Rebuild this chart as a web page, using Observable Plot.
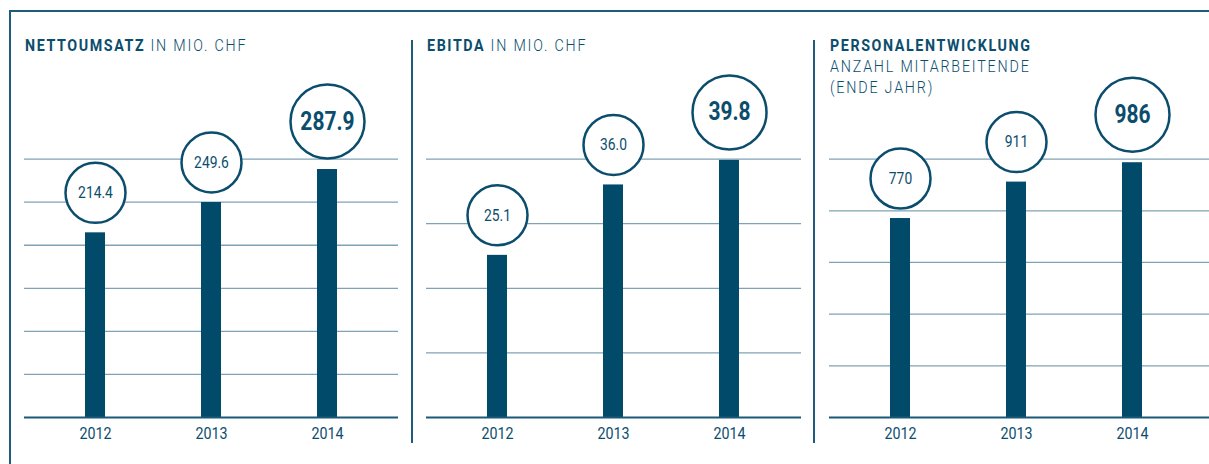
<!DOCTYPE html>
<html><head><meta charset="utf-8">
<script src="https://cdn.jsdelivr.net/npm/d3@7"></script>
<script src="https://cdn.jsdelivr.net/npm/@observablehq/plot@0.6"></script>
<style>
html,body{margin:0;padding:0;background:#fff;}
#root{position:relative;width:1209px;height:464px;overflow:hidden;font-family:Roboto,"Liberation Sans",sans-serif;color:#0b4d6d;}
.frameTop{position:absolute;left:9px;top:9.5px;width:1200px;height:2px;background:#1f5b7a}
.frameLeft{position:absolute;left:9px;top:9.5px;width:2px;height:455px;background:#1f5b7a}
.sep{position:absolute;top:40px;height:403px;width:2px;background:#1f5b7a}
.title{position:absolute;top:35px;font-size:17px;line-height:21px;font-weight:300;letter-spacing:2.15px;z-index:2;white-space:nowrap;transform:scaleX(0.84);transform-origin:0 0}
.title b{font-weight:700;letter-spacing:1.9px}
.panel{position:absolute;top:60px;z-index:1}
</style>
</head><body>
<div id="root">
  <div class="frameTop"></div>
  <div class="frameLeft"></div>
  <div class="sep" style="left:411px"></div>
  <div class="sep" style="left:813px"></div>
  <div class="title" style="left:25px"><b>NETTOUMSATZ</b> IN MIO. CHF</div>
  <div class="title" style="left:427px"><b>EBITDA</b> IN MIO. CHF</div>
  <div class="title" style="left:830px"><b>PERSONALENTWICKLUNG</b><br>ANZAHL MITARBEITENDE<br>(ENDE JAHR)</div>
</div>
<script>
const years = ["2012", "2013", "2014"];
const umsatz = [214.4, 249.6, 287.9];
const ebitda = [25.1, 36.0, 39.8];
const personal = [770, 911, 986];
const umsatzTicks = [0, 50, 100, 150, 200, 250, 300];
const ebitdaTicks = [0, 10, 20, 30, 40];
const personalTicks = [0, 200, 400, 600, 800, 1000];
const highlightYear = "2014";

const FONT = 'Roboto,"Liberation Sans",sans-serif';
const DARK = "#0b4d6d";
const BAR = "#024a6a";
const GRID = "#7fa2b5";
const BASE = "#1a5878";
const SQUEEZE = 0.84;

function condense(svg, s) {
  svg.querySelectorAll("text").forEach(t => {
    const x = +(t.getAttribute("x") || 0);
    const tr = t.getAttribute("transform") || "";
    t.setAttribute("transform", `${tr} translate(${x},0) scale(${s},1) translate(${-x},0)`);
  });
}

function panel(values, ticks, fmt, left, width) {
  const data = years.map((year, i) => ({year, value: values[i], label: fmt(values[i]), big: year === highlightYear}));
  const small = data.filter(d => !d.big);
  const big = data.filter(d => d.big);
  const plot = Plot.plot({
    width, height: 390,
    marginLeft: 0, marginRight: 0, marginTop: 98.6, marginBottom: 33,
    style: {background: "transparent", fontFamily: FONT, fontSize: "17px", color: DARK, overflow: "visible"},
    x: {domain: years, range: [13, 361], padding: 0, axis: "bottom", tickSize: 0, tickPadding: 9, label: null},
    y: {domain: [0, ticks[ticks.length - 1]], axis: null},
    marks: [
      Plot.ruleY(ticks.slice(1), {stroke: GRID, strokeWidth: 1.3}),
      Plot.barY(data, {x: "year", y: "value", fill: BAR, insetLeft: 48, insetRight: 48}),
      Plot.ruleY([0], {stroke: BASE, strokeWidth: 2}),
      Plot.dot(small, {x: "year", y: "value", r: 30, dy: -40, fill: "white", stroke: DARK, strokeWidth: 2.5}),
      Plot.dot(big, {x: "year", y: "value", r: 37, dy: -48, fill: "white", stroke: DARK, strokeWidth: 2.5}),
      Plot.text(small, {x: "year", y: "value", text: "label", dy: -40, fontSize: 16.5, fill: DARK}),
      Plot.text(big, {x: "year", y: "value", text: "label", dy: -48, fontSize: 25, fontWeight: 700, fill: DARK})
    ]
  });
  condense(plot, SQUEEZE);
  const wrap = document.createElement("div");
  wrap.className = "panel";
  wrap.style.left = left + "px";
  wrap.appendChild(plot);
  document.getElementById("root").appendChild(wrap);
}

panel(umsatz, umsatzTicks, d3.format(".1f"), 24, 374);
panel(ebitda, ebitdaTicks, d3.format(".1f"), 426, 375);
panel(personal, personalTicks, d3.format("d"), 829, 380);
</script>
</body></html>
